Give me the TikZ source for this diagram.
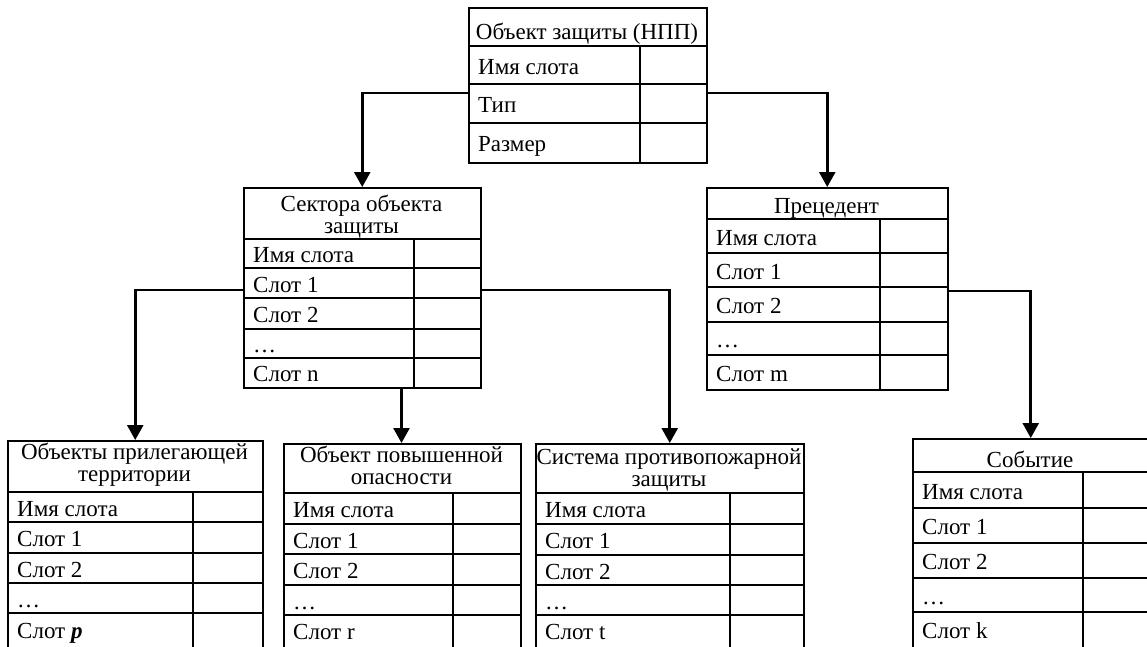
\documentclass[tikz,border=0pt]{standalone}
\usepackage{fontspec}
\setmainfont{Liberation Serif}
\usetikzlibrary{arrows.meta}
\newcommand\cellfont{\fontsize{23}{22}\selectfont}
% vertical offset of a header below the middle of its cell
\newcommand\headshift{5}
% #1 name, #2 left, #3 right, #4 column, #5 top, #6 title bottom,
% #7 bottom, #8 title, #9 rows as top/bottom/text
\newcommand\slottable[9]{%
  \node[frame, minimum width={#3-#2}, minimum height={#7-#5}] (#1) at (#2,#5) {};
  \node[head] (#1-title) at ({(#2+#3)/2},{(#5+#6)/2+\headshift}) {#8};
  \draw[rule] (#4,#6) -- (#4,#7);
  \foreach \ya/\yb/\txt [count=\i] in {#9} {
    \draw[rule] (#2,\ya) -- (#3,\ya);
    \node[slot] (#1-\i) at ({#2+10},{(\ya+\yb)/2+9}) {\txt};
  }%
}
\begin{document}
\begin{tikzpicture}[x=1pt,y=-1pt,
  frame/.style={draw, line width=1.5pt, inner sep=0pt, anchor=north west},
  rule/.style={line width=1.5pt},
  slot/.style={anchor=base west, inner sep=0pt, font=\cellfont},
  head/.style={align=center, inner sep=0pt, font=\cellfont},
  conn/.style={line width=2.6pt, -{Triangle[length=15pt,width=16pt]}},
]
\useasboundingbox (0,0) rectangle (1147,646);
\clip (0,0) rectangle (1147,646);

% frames
\renewcommand\headshift{7}
\slottable{T}{468}{706}{640}{7}{46}{162}{Объект защиты (НПП)}
  {46/84/Имя слота, 84/123/Тип, 123/162/Размер}
\renewcommand\headshift{4}
\slottable{S}{243}{480}{414}{187}{239}{387}{Сектора объекта\\защиты}
  {239/268/Имя слота, 268/298/Слот 1, 298/329/Слот 2, 329/358/…, 358/387/Слот n}
\renewcommand\headshift{5}
\slottable{P}{706}{947}{880}{187}{219}{389}{Прецедент}
  {219/253/Имя слота, 253/287/Слот 1, 287/322/Слот 2, 322/355/…, 355/389/Слот m}
\renewcommand\headshift{-1}
\slottable{A}{7}{262}{193}{440}{492}{660}{Объекты прилегающей\\территории}
  {492/522/Имя слота, 522/553/Слот 1, 553/583/Слот 2, 583/613/…, 613/646/Слот \textbf{\textit{p}}}
\renewcommand\headshift{-3}
\slottable{B}{283}{520}{453}{443}{493}{660}{Объект повышенной\\опасности}
  {493/524/Имя слота, 524/554/Слот 1, 554/585/Слот 2, 585/615/…, 615/646/Слот r}
\renewcommand\headshift{2}
\slottable{C}{535}{803}{730}{443}{493}{660}{Система противопожарной\\защиты}
  {493/524/Имя слота, 524/555/Слот 1, 555/585/Слот 2, 585/615/…, 615/646/Слот t}
\renewcommand\headshift{4}
\slottable{E}{912}{1148}{1083}{438}{472}{660}{Событие}
  {472/508/Имя слота, 508/543/Слот 1, 543/578/Слот 2, 578/612/…, 612/646/Слот k}

% connector ends on the frames
\coordinate (Tl) at (468,93);
\coordinate (Tr) at (706,93);
\coordinate (Sl) at (243,290);
\coordinate (Sr) at (480,290);
\coordinate (Sb) at (401.5,387);
\coordinate (Pr) at (947,291);

% connectors
\draw[conn] (Tl) -| (S.north);
\draw[conn] (Tr) -| (P.north);
\draw[conn] (Sl) -| (A.north);
\draw[conn] (Sr) -| (C.north);
\draw[conn] (Sb) -- (Sb |- B.north);
\draw[conn] (Pr) -| (E.north);
\end{tikzpicture}
\end{document}
